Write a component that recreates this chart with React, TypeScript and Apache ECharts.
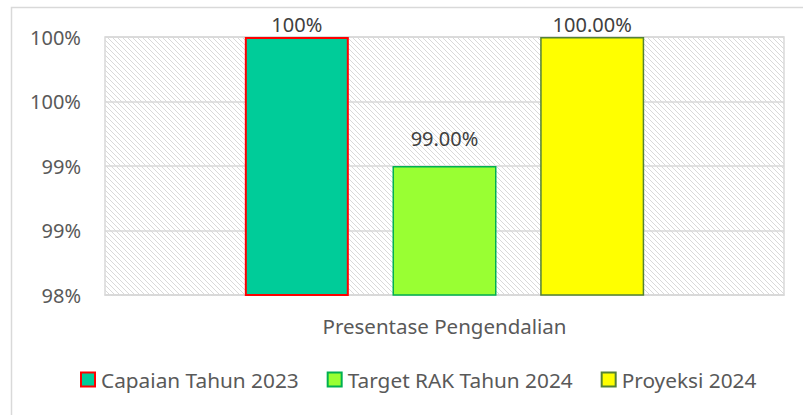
import React, { useEffect, useRef } from "react";
import * as echarts from "echarts";

const categories = ["Presentase Pengendalian"];
const seriesNames = ["Capaian Tahun 2023", "Target RAK Tahun 2024", "Proyeksi 2024"];
const capaian2023 = [100];
const targetRak2024 = [99];
const proyeksi2024 = [100];
const valueLabels = ["100%", "99.00%", "100.00%"];
const yMin = 98;
const yMax = 100;
const yInterval = 0.5;

function makeHatch(): HTMLCanvasElement {
  const c = document.createElement("canvas");
  const n = 5;
  c.width = n;
  c.height = n;
  const ctx = c.getContext("2d")!;
  ctx.fillStyle = "#ffffff";
  ctx.fillRect(0, 0, n, n);
  ctx.fillStyle = "#d9d9d9";
  for (let i = 0; i < n; i++) ctx.fillRect(i, i, 1, 1);
  return c;
}

export default function App() {
  const ref = useRef<HTMLDivElement>(null);
  useEffect(() => {
    document.body.style.margin = "0";
    const chart = echarts.init(ref.current!, null, { renderer: "svg" });
    const font = "'Noto Sans', sans-serif";
    const hatch = { image: makeHatch(), repeat: "repeat" } as any;
    const data = [capaian2023, targetRak2024, proyeksi2024];
    const fills = ["#00CC99", "#99FF33", "#FFFF00"];
    const borders = ["#FF0000", "#00B050", "#548235"];
    const borderWidths = [2, 1.5, 1.5];
    const distances = [3, 18, 3];
    chart.setOption({
      animation: false,
      textStyle: { fontFamily: font },
      graphic: [
        {
          type: "rect",
          shape: { x: 11.5, y: 7.5, width: 820, height: 430 },
          style: { fill: "none", stroke: "#D9D9D9", lineWidth: 1.5 },
          silent: true,
        },
      ],
      grid: {
        left: 105,
        right: 19,
        top: 37,
        bottom: 120,
        show: true,
        backgroundColor: hatch,
        borderColor: "#D9D9D9",
        borderWidth: 1.5,
      },
      legend: {
        data: seriesNames,
        top: 369,
        left: 80,
        padding: 0,
        itemWidth: 14,
        itemHeight: 14,
        itemGap: 28,
        icon: "rect",
        textStyle: { fontFamily: font, fontSize: 20.8, color: "#595959", padding: [0, 0, 0, 1] },
      },
      xAxis: {
        type: "category",
        data: categories,
        axisLine: { show: true, lineStyle: { color: "#D9D9D9", width: 1.5 } },
        axisTick: { show: false },
        axisLabel: { fontFamily: font, fontSize: 20.5, color: "#595959", margin: 20 },
      },
      yAxis: {
        type: "value",
        min: yMin,
        max: yMax,
        interval: yInterval,
        axisLine: { show: false },
        axisTick: { show: false },
        splitLine: { show: true, lineStyle: { color: "#D9D9D9", width: 1.5 } },
        axisLabel: {
          fontFamily: font,
          fontSize: 20,
          color: "#595959",
          margin: 24,
          formatter: (v: number) => Math.round(v) + "%",
        },
      },
      series: seriesNames.map((name, i) => ({
        name,
        type: "bar",
        data: data[i],
        barWidth: 104,
        barGap: "42%",
        itemStyle: { color: fills[i], borderColor: borders[i], borderWidth: borderWidths[i] },
        label: {
          show: true,
          position: "top",
          distance: distances[i],
          fontFamily: font,
          fontSize: 20,
          color: "#404040",
          formatter: () => valueLabels[i],
        },
      })),
    });
    return () => chart.dispose();
  }, []);
  return (
    <div
      ref={ref}
      style={{ position: "absolute", left: 0, top: 0, width: 803, height: 415, background: "#fff" }}
    />
  );
}
